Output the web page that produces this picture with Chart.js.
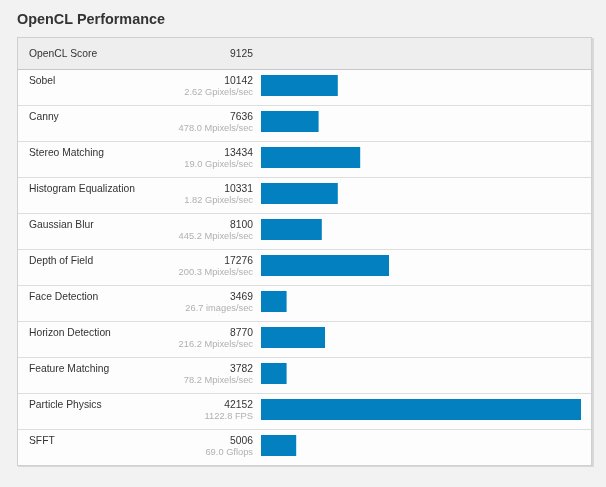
<!DOCTYPE html>
<html>
<head>
<meta charset="utf-8">
<script src="https://cdn.jsdelivr.net/npm/chart.js@4.4.0/dist/chart.umd.min.js"></script>
<style>
  html, body { margin: 0; padding: 0; background: #f2f2f2; }
  #perfChart { position: absolute; left: 0; top: 0; }
</style>
</head>
<body>
<canvas id="perfChart" width="606" height="487"></canvas>
<script>
const title = 'OpenCL Performance';
const overallLabel = 'OpenCL Score';
const overallScore = 9125;
const names = ['Sobel', 'Canny', 'Stereo Matching', 'Histogram Equalization', 'Gaussian Blur',
  'Depth of Field', 'Face Detection', 'Horizon Detection', 'Feature Matching', 'Particle Physics', 'SFFT'];
const scores = [10142, 7636, 13434, 10331, 8100, 17276, 3469, 8770, 3782, 42152, 5006];
const units = ['2.62 Gpixels/sec', '478.0 Mpixels/sec', '19.0 Gpixels/sec', '1.82 Gpixels/sec',
  '445.2 Mpixels/sec', '200.3 Mpixels/sec', '26.7 images/sec', '216.2 Mpixels/sec',
  '78.2 Mpixels/sec', '1122.8 FPS', '69.0 Gflops'];
// bar length as whole percent of the best score
const barPercents = [24, 18, 31, 24, 19, 40, 8, 20, 8, 100, 11];

const FONT = '"Liberation Sans", Arial, sans-serif';

// draws the panel, header, row lines and text around the bars
const tablePlugin = {
  id: 'tablePlugin',
  beforeDatasetsDraw(chart) {
    const ctx = chart.ctx;
    const y = chart.scales.y;
    const left = 17, right = 592;
    const firstTop = y.getPixelForValue(0) - 15.5;
    const lastLine = y.getPixelForValue(names.length - 1) + 19.5;
    const panelTop = firstTop - 33;

    ctx.save();
    // title
    ctx.fillStyle = '#333';
    ctx.font = 'bold 14.4px ' + FONT;
    ctx.textAlign = 'left';
    ctx.textBaseline = 'alphabetic';
    ctx.fillText(title, 17, 24);

    // panel
    ctx.fillStyle = '#d8d8d8';
    ctx.fillRect(left + 1, panelTop + 1, right - left + 1, lastLine - panelTop + 1);
    ctx.fillStyle = '#fdfdfd';
    ctx.fillRect(left, panelTop, right - left, lastLine - panelTop);
    ctx.fillStyle = '#eeeeee';
    ctx.fillRect(left, panelTop, right - left, 32);
    ctx.strokeStyle = '#d0d0d0';
    ctx.lineWidth = 1;
    ctx.strokeRect(left + 0.5, panelTop + 0.5, right - left - 1, lastLine - panelTop);

    // header
    ctx.fillStyle = '#c8c8c8';
    ctx.fillRect(left, panelTop + 32, right - left, 1);
    ctx.fillStyle = '#333';
    ctx.font = '10.3px ' + FONT;
    ctx.fillText(overallLabel, 29, panelTop + 20);
    ctx.textAlign = 'right';
    ctx.fillText(String(overallScore), 253, panelTop + 20);

    names.forEach((name, i) => {
      const c = y.getPixelForValue(i);
      if (i < names.length - 1) {
        ctx.fillStyle = '#dddddd';
        ctx.fillRect(left + 1, Math.round(c + 19), right - left - 2, 1);
      }
      ctx.fillStyle = '#333';
      ctx.font = '10.3px ' + FONT;
      ctx.textAlign = 'left';
      ctx.fillText(name, 29, c - 1.5);
      ctx.textAlign = 'right';
      ctx.fillText(String(scores[i]), 253, c - 1.5);
      ctx.fillStyle = '#b0b0b0';
      ctx.font = '9.3px ' + FONT;
      ctx.fillText(units[i], 253, c + 9.5);
    });
    ctx.restore();
  }
};

new Chart(document.getElementById('perfChart'), {
  type: 'bar',
  data: {
    labels: names,
    datasets: [{
      data: barPercents,
      backgroundColor: '#0380c0',
      borderWidth: 0,
      barPercentage: 21 / 36,
      categoryPercentage: 1
    }]
  },
  options: {
    indexAxis: 'y',
    responsive: false,
    animation: false,
    layout: { padding: { left: 261, right: 25, top: 67.5, bottom: 23.5 } },
    scales: {
      x: { display: false, min: 0, max: 100 },
      y: { display: false }
    },
    plugins: {
      legend: { display: false },
      tooltip: { enabled: false }
    }
  },
  plugins: [tablePlugin]
});
</script>
</body>
</html>
